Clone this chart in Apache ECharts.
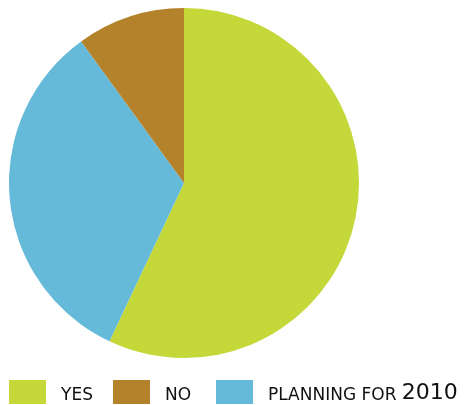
<!DOCTYPE html>
<html><head><meta charset="utf-8">
<script src="https://cdn.jsdelivr.net/npm/echarts@6/dist/echarts.min.js"></script>
<style>html,body{margin:0;padding:0;background:#fff}#c{width:476px;height:405px}</style>
</head><body><div id="c"></div>
<script>
const categories = ['YES', 'NO', 'PLANNING FOR 2010'];
const values = [57, 10, 33];
const colors = ['#c4d83a', '#b4822b', '#66bad9'];
const pieOrder = ['YES', 'PLANNING FOR 2010', 'NO'];
const legendLeft = [9, 113, 216];

const chart = echarts.init(document.getElementById('c'), null, {renderer: 'canvas'});
const legends = categories.map((c, i) => ({
  left: legendLeft[i], top: 380, padding: 0,
  itemWidth: 37, itemHeight: 24,
  icon: 'rect',
  data: [c],
  selectedMode: false,
  formatter: function (name) {
    if (name === 'PLANNING FOR 2010') return '{s|PLANNING FOR }{b|2010}';
    return '{s|' + name + '}';
  },
  textStyle: {
    padding: [0, 0, 0, 10],
    rich: {
      s: {fontFamily: 'DejaVu Sans', fontSize: 17, color: '#111', verticalAlign: 'bottom', lineHeight: 24, padding: [6, 0, 0, 0]},
      b: {fontFamily: 'DejaVu Sans', fontSize: 22, color: '#111', verticalAlign: 'bottom', lineHeight: 24}
    }
  }
}));
chart.setOption({
  animation: false,
  legend: legends,
  series: [{
    type: 'pie',
    center: [184, 183],
    radius: [0, 175],
    startAngle: 90,
    clockwise: true,
    label: {show: false},
    labelLine: {show: false},
    itemStyle: {borderWidth: 0},
    emphasis: {disabled: true},
    data: pieOrder.map(c => {
      const i = categories.indexOf(c);
      return {name: c, value: values[i], itemStyle: {color: colors[i]}};
    })
  }]
});
</script></body></html>
